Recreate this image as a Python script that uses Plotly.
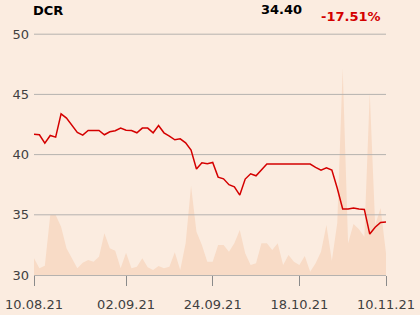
import plotly.graph_objects as go

# ---- data ----
idx = list(range(66))
price = [41.70, 41.65, 40.95, 41.59, 41.45, 43.39, 43.03, 42.42, 41.84, 41.62,
         42.01, 42.01, 42.01, 41.65, 41.90, 41.98, 42.20, 42.03, 42.00, 41.81,
         42.20, 42.20, 41.81, 42.42, 41.81, 41.54, 41.23, 41.31, 40.98, 40.37,
         38.80, 39.32, 39.24, 39.35, 38.13, 37.99, 37.50, 37.33, 36.64, 37.97,
         38.41, 38.24, 38.74, 39.21, 39.21, 39.21, 39.21, 39.21, 39.21, 39.21,
         39.21, 39.21, 38.94, 38.71, 38.90, 38.71, 37.20, 35.48, 35.48, 35.56,
         35.48, 35.45, 33.40, 33.96, 34.37, 34.40]
volume = [16.7, 6.7, 9.3, 60, 60, 48.3, 26.7, 16.7, 6.7, 12.3,
          15, 13.3, 18.3, 41.7, 26.7, 24.3, 6.7, 22.3, 6.7, 8.3,
          16.7, 7.7, 5, 9, 6.7, 8.3, 22.7, 5, 31.7, 89.3,
          43.3, 30, 13.3, 13.3, 30, 30, 23.3, 31.7, 45, 21.7,
          10, 11.7, 31.7, 31.7, 25, 31.7, 10, 20, 13.3, 10,
          19, 3.3, 11.7, 23.3, 50, 14.3, 52, 206.7, 31.7, 51,
          45.7, 38.3, 182.3, 50, 67, 21.7]
tick_pos = [0, 17, 33, 49, 65]
tick_labels = ["10.08.21", "02.09.21", "24.09.21", "18.10.21", "10.11.21"]
price_ticks = [30, 35, 40, 45, 50]
title = "DCR"
last_text = "34.40"
change_text = "-17.51%"

BG = "#FBECE0"
AREA = "#F8DBC6"
GRID = "#B5B2AF"
RED = "#D40000"
TXT = "#404040"
FONT = "DejaVu Sans"

fig = go.Figure()
fig.add_trace(go.Scatter(x=idx, y=volume, mode="lines", fill="tozeroy",
                         line=dict(width=0, color=AREA), fillcolor=AREA,
                         hoverinfo="skip", showlegend=False))
for v in price_ticks[1:]:
    fig.add_trace(go.Scatter(x=[idx[0], idx[-1]], y=[v, v], mode="lines",
                             line=dict(color=GRID, width=1), yaxis="y2",
                             hoverinfo="skip", showlegend=False))
fig.add_trace(go.Scatter(x=idx, y=price, mode="lines", yaxis="y2",
                         line=dict(color=RED, width=1.5), showlegend=False))

fig.update_layout(
    width=420, height=315,
    margin=dict(l=34, r=34, t=33, b=40),
    paper_bgcolor=BG, plot_bgcolor=BG,
    font=dict(family=FONT, size=13, color=TXT),
    xaxis=dict(range=[idx[0], idx[-1]], tickvals=tick_pos, ticktext=tick_labels,
               ticks="outside", ticklen=10, tickcolor="#8a8a8a", tickwidth=1,
               showline=True, linecolor=GRID, linewidth=1, showgrid=False,
               zeroline=False, automargin=False, ticklabelstandoff=7,
               tickfont=dict(size=13, color=TXT)),
    yaxis=dict(range=[0, 242], visible=False, showgrid=False, zeroline=False,
               automargin=False),
    yaxis2=dict(range=[30, 50.1], overlaying="y", side="left", anchor="x",
                tickvals=price_ticks, showgrid=False, zeroline=False,
                automargin=False, ticks="", ticklabelstandoff=4,
                tickfont=dict(size=13, color=TXT)),
    annotations=[
        dict(text=f"<b>{title}</b>", xref="paper", yref="paper", x=0, y=1.095,
             xanchor="left", yanchor="middle", showarrow=False, xshift=-3,
             font=dict(size=13, color="#000000", family=FONT)),
        dict(text=f"<b>{last_text}</b>", xref="paper", yref="paper", x=0.761, y=1.097,
             xanchor="right", yanchor="middle", showarrow=False, xshift=2,
             font=dict(size=13, color="#000000", family=FONT)),
        dict(text=f"<b>{change_text}</b>", xref="paper", yref="paper", x=0.986, y=1.068,
             xanchor="right", yanchor="middle", showarrow=False, xshift=2,
             font=dict(size=13, color=RED, family=FONT)),
    ],
)

fig.write_html("out.html")
